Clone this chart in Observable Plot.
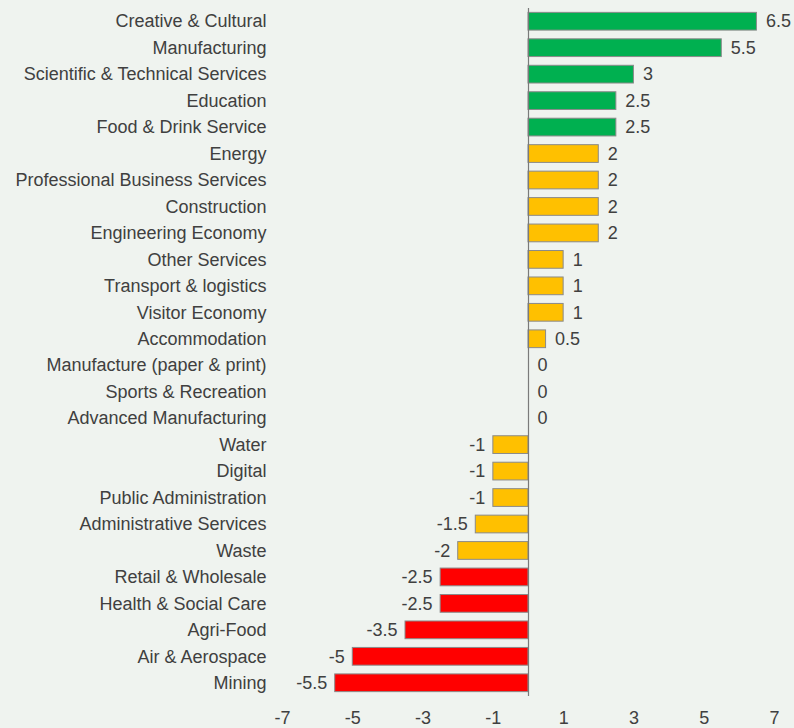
<!DOCTYPE html>
<html>
<head>
<meta charset="utf-8">
<script src="https://cdn.jsdelivr.net/npm/d3@7"></script>
<script src="https://cdn.jsdelivr.net/npm/@observablehq/plot@0.6"></script>
<style>
  html, body { margin: 0; padding: 0; background: #eff3ef; }
  #chart { width: 794px; height: 728px; }
  svg { font-family: "Liberation Sans", Arial, sans-serif; }
</style>
</head>
<body>
<div id="chart"></div>
<script>
const categories = [
  "Creative & Cultural", "Manufacturing", "Scientific & Technical Services", "Education",
  "Food & Drink Service", "Energy", "Professional Business Services", "Construction",
  "Engineering Economy", "Other Services", "Transport & logistics", "Visitor Economy",
  "Accommodation", "Manufacture (paper & print)", "Sports & Recreation", "Advanced Manufacturing",
  "Water", "Digital", "Public Administration", "Administrative Services", "Waste",
  "Retail & Wholesale", "Health & Social Care", "Agri-Food", "Air & Aerospace", "Mining"
];
const values = [6.5, 5.5, 3, 2.5, 2.5, 2, 2, 2, 2, 1, 1, 1, 0.5, 0, 0, 0, -1, -1, -1, -1.5, -2, -2.5, -2.5, -3.5, -5, -5.5];
const groups = ["high","high","high","high","high","mid","mid","mid","mid","mid","mid","mid","mid","mid","mid","mid","mid","mid","mid","mid","mid","low","low","low","low","low"];
const xTicks = [-7, -5, -3, -1, 1, 3, 5, 7];

const data = categories.map((c, i) => ({category: c, value: values[i], group: groups[i]}));

const chart = Plot.plot({
  width: 794,
  height: 728,
  marginLeft: 282,
  marginRight: 20,
  marginTop: 8,
  marginBottom: 32,
  style: {background: "#eff3ef", fontSize: "18px", color: "#404040", fontFamily: "'Liberation Sans', Arial, sans-serif"},
  x: {domain: [-7, 7], ticks: xTicks, tickSize: 0, tickPadding: 15, label: null, tickFormat: d => String(d)},
  y: {domain: categories, round: false, paddingInner: 0.33, paddingOuter: 0.165, label: null, tickSize: 0, tickPadding: 16},
  color: {domain: ["high", "mid", "low"], range: ["#00b050", "#ffc000", "#ff0000"]},
  marks: [
    Plot.barX(data, {x: "value", y: "category", fill: "group", stroke: "#8a8a8a", strokeWidth: 1}),
    Plot.ruleX([0], {stroke: "#7a7a7a", strokeWidth: 1.2}),
    Plot.text(data.filter(d => d.value >= 0), {x: "value", y: "category", text: d => String(d.value), textAnchor: "start", dx: 9, fill: "#404040", fontSize: 18}),
    Plot.text(data.filter(d => d.value < 0), {x: "value", y: "category", text: d => String(d.value), textAnchor: "end", dx: -8, fill: "#404040", fontSize: 18})
  ]
});
document.getElementById("chart").appendChild(chart);
</script>
</body>
</html>
